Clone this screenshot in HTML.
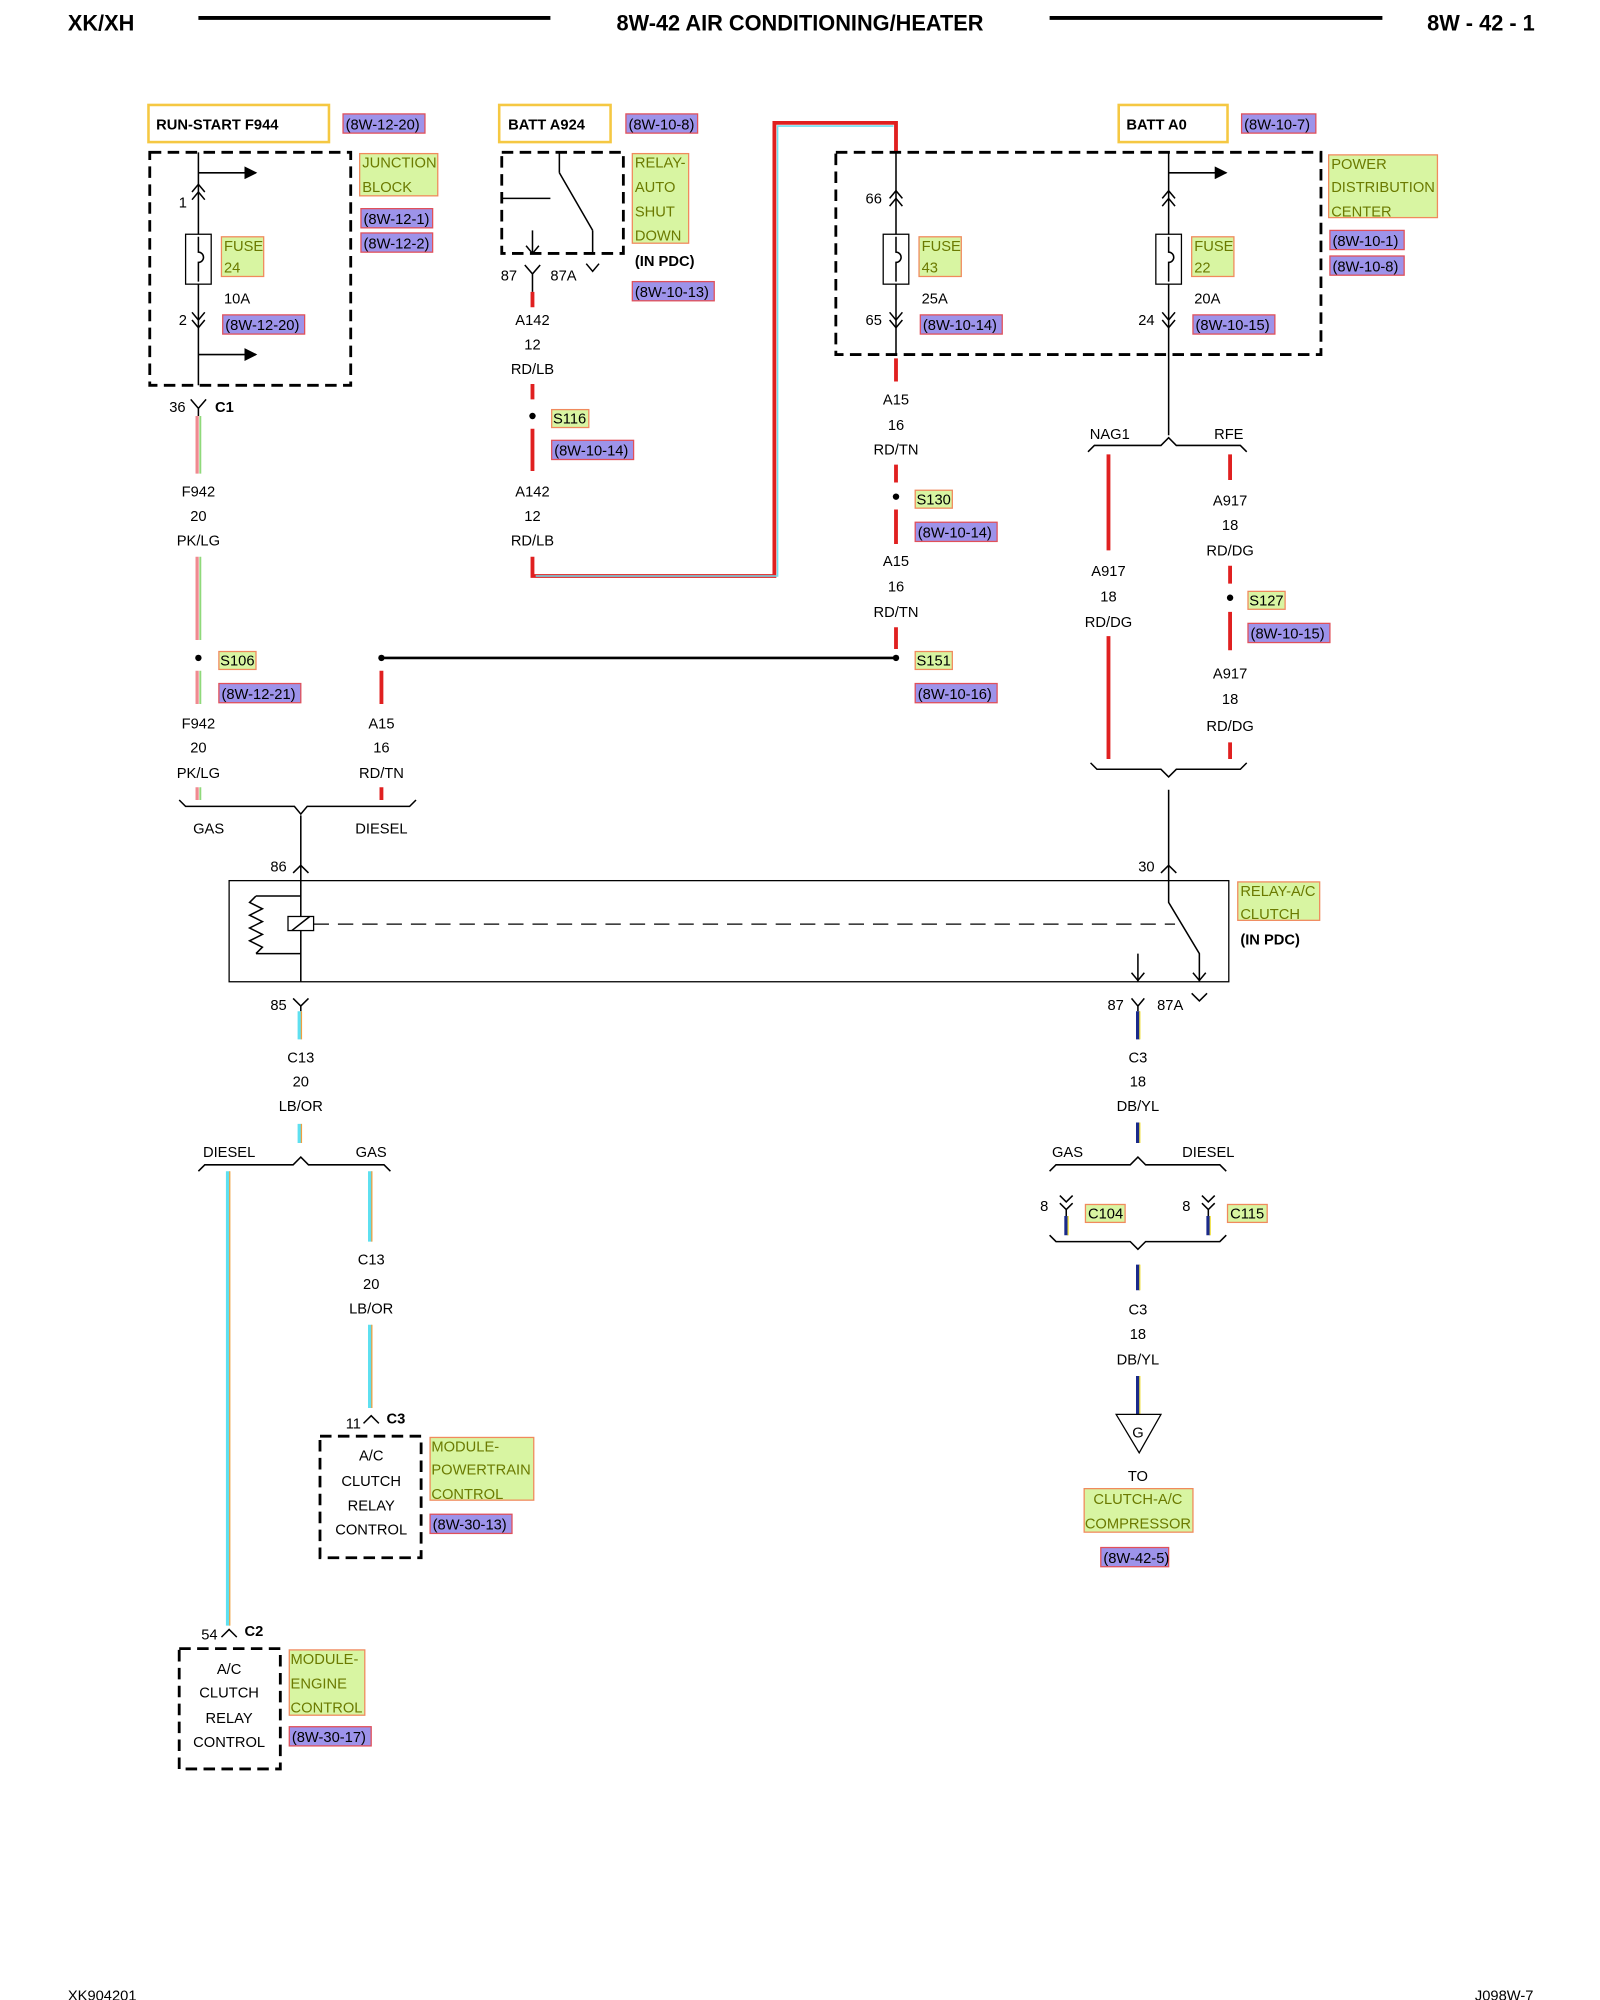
<!DOCTYPE html>
<html><head><meta charset="utf-8"><style>
body{margin:0;background:#fff}
svg{display:block}
text{font-family:"Liberation Sans",sans-serif;font-size:11.5px;fill:#000}
.c{text-anchor:middle}
.b{font-weight:bold}
.g{fill:#d8f5a2;stroke:#f08a5d;stroke-width:1}
.p{fill:#9d93ea;stroke:#e0505a;stroke-width:1}
.y{fill:#fff;stroke:#f5c842;stroke-width:2}
.d{fill:none;stroke:#000;stroke-width:2.2;stroke-dasharray:9,5}
.k{stroke:#000;stroke-width:1.2;fill:none}
.gt{fill:#6b7a00}
</style></head><body>
<svg width="1600" height="2000" viewBox="0 0 1250 1562.5" xmlns="http://www.w3.org/2000/svg">
<defs>
<marker id="ar" markerWidth="10" markerHeight="10" refX="9" refY="5" orient="auto" markerUnits="userSpaceOnUse"><path d="M0,0 L10,5 L0,10 z" fill="#000"/></marker>
</defs>
<!-- header -->
<text x="53" y="24" class="b" style="font-size:17px">XK/XH</text>
<line x1="155" y1="14" x2="430" y2="14" stroke="#000" stroke-width="3"/>
<text x="625" y="24" class="b c" style="font-size:17px">8W-42 AIR CONDITIONING/HEATER</text>
<line x1="820" y1="14" x2="1080" y2="14" stroke="#000" stroke-width="3"/>
<text x="1199" y="24" class="b" style="font-size:17px;text-anchor:end">8W - 42 - 1</text>
<text x="53" y="1563">XK904201</text>
<text x="1198" y="1563" style="text-anchor:end">J098W-7</text>

<!-- RUN-START -->
<rect x="116" y="82" width="141" height="29" class="y"/><text x="122" y="101" class="b">RUN-START F944</text>
<rect x="268" y="89" width="64" height="15" class="p"/><text x="270" y="101">(8W-12-20)</text>
<rect x="117" y="119" width="157" height="182" class="d"/>
<line x1="155" y1="119" x2="155" y2="301" class="k"/>
<line x1="155" y1="135" x2="200" y2="135" class="k" marker-end="url(#ar)"/>
<line x1="155" y1="277" x2="200" y2="277" class="k" marker-end="url(#ar)"/>
<path d="M150,150 l5,-6 l5,6 M150,156 l5,-6 l5,6 M150,244 l5,6 l5,-6 M150,250 l5,6 l5,-6" class="k"/>
<text x="146" y="162" style="text-anchor:end">1</text><text x="146" y="254" style="text-anchor:end">2</text>
<rect x="145" y="183" width="20" height="39" fill="#fff" stroke="#000"/><path d="M155,185 v12 a4,4 0 0 1 0,8 v15" class="k"/>
<rect x="173" y="185" width="33" height="31" class="g"/><text x="175" y="196" class="gt">FUSE</text><text x="175" y="213" class="gt">24</text>
<text x="175" y="237">10A</text>
<rect x="174" y="246" width="64" height="15" class="p"/><text x="176" y="258">(8W-12-20)</text>
<rect x="281" y="120" width="61" height="33" class="g"/><text x="283" y="131" class="gt">JUNCTION</text><text x="283" y="150" class="gt">BLOCK</text>
<rect x="282" y="163" width="56" height="15" class="p"/><text x="284" y="175">(8W-12-1)</text>
<rect x="282" y="182" width="56" height="15" class="p"/><text x="284" y="194">(8W-12-2)</text>
<path d="M149,312 l6,7 l6,-7 M155,319 v6" class="k"/><text x="145" y="322" style="text-anchor:end">36</text><text x="168" y="322" class="b">C1</text>

<!-- PK/LG wire -->
<g stroke-width="2.5">
<path d="M154,325v45M154,435v65M154,524v26M154,615v10" stroke="#f08a90"/>
<path d="M156.5,325v45M156.5,435v65M156.5,524v26M156.5,615v10" stroke="#8fd97a" stroke-width="1.5"/>
</g>
<text x="155" y="388" class="c">F942</text><text x="155" y="407" class="c">20</text><text x="155" y="426" class="c">PK/LG</text>
<circle cx="155" cy="514" r="2.5"/><rect x="171" y="509" width="29" height="14" class="g"/><text x="172" y="520">S106</text>
<rect x="171" y="534" width="64" height="15" class="p"/><text x="173" y="546">(8W-12-21)</text>
<text x="155" y="569" class="c">F942</text><text x="155" y="588" class="c">20</text><text x="155" y="608" class="c">PK/LG</text>
<!-- A15 at 298 -->
<circle cx="298" cy="514" r="2.5"/>
<path d="M298,524v26M298,615v10" stroke="#e02020" stroke-width="3"/>
<text x="298" y="569" class="c">A15</text><text x="298" y="588" class="c">16</text><text x="298" y="608" class="c">RD/TN</text>
<line x1="298" y1="514" x2="700" y2="514" stroke="#000" stroke-width="2"/>
<path d="M140,625 l5,5 h85 l5,6 l5,-6 h80 l5,-5" class="k"/>
<text x="163" y="651" class="c">GAS</text><text x="298" y="651" class="c">DIESEL</text>
<line x1="235" y1="637" x2="235" y2="688" class="k"/>
<path d="M229,682 l6,-6 l6,6" class="k"/><text x="224" y="681" style="text-anchor:end">86</text>

<!-- ASD relay -->
<rect x="390" y="82" width="87" height="29" class="y"/><text x="397" y="101" class="b">BATT A924</text>
<rect x="489" y="89" width="56" height="15" class="p"/><text x="491" y="101">(8W-10-8)</text>
<rect x="392" y="119" width="95" height="79" class="d"/>
<line x1="392" y1="155" x2="430" y2="155" class="k"/><line x1="437" y1="119" x2="437" y2="135" class="k"/>
<line x1="437" y1="135" x2="463" y2="180" class="k"/><line x1="463" y1="180" x2="463" y2="198" class="k"/>
<line x1="416" y1="180" x2="416" y2="198" class="k"/>
<path d="M411,192 l5,6 l5,-6 M458,206 l5,6 l5,-6 M410,207 l6,7 l6,-7 M416,214v14" class="k"/>
<text x="404" y="219" style="text-anchor:end">87</text><text x="430" y="219">87A</text>
<rect x="494" y="120" width="44" height="70" class="g"/><text x="496" y="131" class="gt">RELAY-</text><text x="496" y="150" class="gt">AUTO</text><text x="496" y="169" class="gt">SHUT</text><text x="496" y="188" class="gt">DOWN</text>
<text x="496" y="208" class="b">(IN PDC)</text>
<rect x="494" y="220" width="64" height="15" class="p"/><text x="496" y="232">(8W-10-13)</text>
<path d="M416,228v12M416,300v12M416,335v33M416,435v15 H605 V96 H700 V119" stroke="#e02020" stroke-width="3" fill="none"/>
<path d="M418.5,450 H607.5 V98.5 H698" stroke="#6ee0f0" stroke-width="1.2" fill="none"/>
<text x="416" y="254" class="c">A142</text><text x="416" y="273" class="c">12</text><text x="416" y="292" class="c">RD/LB</text>
<circle cx="416" cy="325" r="2.5"/><rect x="431" y="320" width="29" height="14" class="g"/><text x="432" y="331">S116</text>
<rect x="431" y="344" width="64" height="15" class="p"/><text x="433" y="356">(8W-10-14)</text>
<text x="416" y="388" class="c">A142</text><text x="416" y="407" class="c">12</text><text x="416" y="426" class="c">RD/LB</text>

<!-- PDC -->
<rect x="874" y="82" width="85" height="29" class="y"/><text x="880" y="101" class="b">BATT A0</text>
<rect x="970" y="89" width="58" height="15" class="p"/><text x="972" y="101">(8W-10-7)</text>
<rect x="653" y="119" width="379" height="158" class="d"/>
<line x1="700" y1="119" x2="700" y2="277" class="k"/><line x1="913" y1="119" x2="913" y2="340" class="k"/>
<line x1="913" y1="135" x2="958" y2="135" class="k" marker-end="url(#ar)"/>
<path d="M695,155 l5,-6 l5,6 M695,161 l5,-6 l5,6 M695,244 l5,6 l5,-6 M695,250 l5,6 l5,-6 M908,155 l5,-6 l5,6 M908,161 l5,-6 l5,6 M908,244 l5,6 l5,-6 M908,250 l5,6 l5,-6" class="k"/>
<text x="689" y="159" style="text-anchor:end">66</text><text x="689" y="254" style="text-anchor:end">65</text><text x="902" y="254" style="text-anchor:end">24</text>
<rect x="690" y="183" width="20" height="39" fill="#fff" stroke="#000"/><path d="M700,185 v12 a4,4 0 0 1 0,8 v15" class="k"/>
<rect x="903" y="183" width="20" height="39" fill="#fff" stroke="#000"/><path d="M913,185 v12 a4,4 0 0 1 0,8 v15" class="k"/>
<rect x="718" y="185" width="33" height="31" class="g"/><text x="720" y="196" class="gt">FUSE</text><text x="720" y="213" class="gt">43</text>
<rect x="931" y="185" width="33" height="31" class="g"/><text x="933" y="196" class="gt">FUSE</text><text x="933" y="213" class="gt">22</text>
<text x="720" y="237">25A</text><text x="933" y="237">20A</text>
<rect x="719" y="246" width="64" height="15" class="p"/><text x="721" y="258">(8W-10-14)</text>
<rect x="932" y="246" width="64" height="15" class="p"/><text x="934" y="258">(8W-10-15)</text>
<rect x="1038" y="121" width="85" height="49" class="g"/><text x="1040" y="132" class="gt">POWER</text><text x="1040" y="150" class="gt">DISTRIBUTION</text><text x="1040" y="169" class="gt">CENTER</text>
<rect x="1039" y="180" width="58" height="15" class="p"/><text x="1041" y="192">(8W-10-1)</text>
<rect x="1039" y="200" width="58" height="15" class="p"/><text x="1041" y="212">(8W-10-8)</text>
<!-- A15 x=700 -->
<path d="M700,280v18M700,363v14M700,398v27M700,490v17" stroke="#e02020" stroke-width="3"/>
<text x="700" y="316" class="c">A15</text><text x="700" y="336" class="c">16</text><text x="700" y="355" class="c">RD/TN</text>
<circle cx="700" cy="388" r="2.5"/><rect x="715" y="383" width="29" height="14" class="g"/><text x="716" y="394">S130</text>
<rect x="715" y="408" width="64" height="15" class="p"/><text x="717" y="420">(8W-10-14)</text>
<text x="700" y="442" class="c">A15</text><text x="700" y="462" class="c">16</text><text x="700" y="482" class="c">RD/TN</text>
<circle cx="700" cy="514" r="2.5"/><rect x="715" y="509" width="29" height="14" class="g"/><text x="716" y="520">S151</text>
<rect x="715" y="534" width="64" height="15" class="p"/><text x="717" y="546">(8W-10-16)</text>
<!-- NAG1/RFE -->
<path d="M850,353 l5,-5 h52 l6,-6 l6,6 h50 l5,5" class="k"/>
<text x="867" y="343" class="c">NAG1</text><text x="960" y="343" class="c">RFE</text>
<path d="M866,355v75M866,497v96M961,355v20M961,442v14M961,478v30M961,580v13" stroke="#e02020" stroke-width="3"/>
<text x="866" y="450" class="c">A917</text><text x="866" y="470" class="c">18</text><text x="866" y="490" class="c">RD/DG</text>
<text x="961" y="395" class="c">A917</text><text x="961" y="414" class="c">18</text><text x="961" y="434" class="c">RD/DG</text>
<circle cx="961" cy="467" r="2.5"/><rect x="975" y="462" width="29" height="14" class="g"/><text x="976" y="473">S127</text>
<rect x="975" y="487" width="64" height="15" class="p"/><text x="977" y="499">(8W-10-15)</text>
<text x="961" y="530" class="c">A917</text><text x="961" y="550" class="c">18</text><text x="961" y="571" class="c">RD/DG</text>
<path d="M852,596 l5,5 h50 l6,6 l6,-6 h50 l5,-5" class="k"/>
<line x1="913" y1="617" x2="913" y2="688" class="k"/>
<path d="M907,682 l6,-6 l6,6" class="k"/><text x="902" y="681" style="text-anchor:end">30</text>

<!-- A/C relay -->
<rect x="179" y="688" width="781" height="79" fill="none" stroke="#000" stroke-width="1"/>
<path d="M235,688v12 h-35 M235,700v45 h-35 M200,700 l-5,5 l10,5 l-10,5 l10,5 l-10,5 l10,5 l-10,5 l10,5 l-5,5 M235,745v22" class="k"/>
<rect x="225" y="716" width="20" height="11" fill="#fff" stroke="#000"/><line x1="228" y1="727" x2="242" y2="716" class="k"/>
<line x1="245" y1="722" x2="918" y2="722" stroke="#000" stroke-dasharray="12,7"/>
<path d="M913,688v17 l24,40 v22 M889,745v22" class="k"/>
<path d="M884,760 l5,6 l5,-6 M932,760 l5,6 l5,-6 M229,780 l6,6 l6,-6 M235,786v4 M884,780 l5,6 l5,-6 M889,786v4 M931,776 l6,6 l6,-6" class="k"/>
<text x="224" y="789" style="text-anchor:end">85</text><text x="878" y="789" style="text-anchor:end">87</text><text x="904" y="789">87A</text>
<rect x="967" y="689" width="64" height="30" class="g"/><text x="969" y="700" class="gt">RELAY-A/C</text><text x="969" y="718" class="gt">CLUTCH</text>
<text x="969" y="738" class="b">(IN PDC)</text>

<!-- LB/OR -->
<g stroke-width="3"><path d="M234,790v22M234,878v15M178,915v355M289,915v55M289,1035v65" stroke="#5ee0f0"/></g>
<g stroke-width="1"><path d="M235.5,790v22M235.5,878v15M179.5,915v355M290.5,915v55M290.5,1035v65" stroke="#f0a040"/></g>
<text x="235" y="830" class="c">C13</text><text x="235" y="849" class="c">20</text><text x="235" y="868" class="c">LB/OR</text>
<path d="M155,915 l5,-5 h69 l6,-6 l6,6 h59 l5,5" class="k"/>
<text x="179" y="904" class="c">DIESEL</text><text x="290" y="904" class="c">GAS</text>
<text x="290" y="988" class="c">C13</text><text x="290" y="1007" class="c">20</text><text x="290" y="1026" class="c">LB/OR</text>
<path d="M284,1112 l6,-6 l6,6" class="k"/><text x="282" y="1116" style="text-anchor:end">11</text><text x="302" y="1112" class="b">C3</text>
<rect x="250" y="1122" width="79" height="95" class="d"/>
<text x="290" y="1141" class="c">A/C</text><text x="290" y="1161" class="c">CLUTCH</text><text x="290" y="1180" class="c">RELAY</text><text x="290" y="1199" class="c">CONTROL</text>
<rect x="336" y="1123" width="81" height="49" class="g"/><text x="337" y="1134" class="gt">MODULE-</text><text x="337" y="1152" class="gt">POWERTRAIN</text><text x="337" y="1171" class="gt">CONTROL</text>
<rect x="336" y="1183" width="64" height="15" class="p"/><text x="338" y="1195">(8W-30-13)</text>
<path d="M173,1279 l6,-6 l6,6" class="k"/><text x="170" y="1281" style="text-anchor:end">54</text><text x="191" y="1278" class="b">C2</text>
<rect x="140" y="1288" width="79" height="94" class="d"/>
<text x="179" y="1308" class="c">A/C</text><text x="179" y="1326" class="c">CLUTCH</text><text x="179" y="1346" class="c">RELAY</text><text x="179" y="1365" class="c">CONTROL</text>
<rect x="226" y="1289" width="59" height="51" class="g"/><text x="227" y="1300" class="gt">MODULE-</text><text x="227" y="1319" class="gt">ENGINE</text><text x="227" y="1338" class="gt">CONTROL</text>
<rect x="226" y="1349" width="64" height="15" class="p"/><text x="228" y="1361">(8W-30-17)</text>

<!-- DB/YL -->
<g stroke-width="3"><path d="M889,790v22M889,877v16M889,988v20M889,1075v30M833,950v15M944,950v15" stroke="#1a2a8a"/></g>
<g stroke-width="1"><path d="M890.5,790v22M890.5,877v16M890.5,988v20M890.5,1075v30M834.5,950v15M945.5,950v15" stroke="#f0e040"/></g>
<text x="889" y="830" class="c">C3</text><text x="889" y="849" class="c">18</text><text x="889" y="868" class="c">DB/YL</text>
<path d="M820,915 l5,-5 h58 l6,-6 l6,6 h58 l5,5" class="k"/>
<text x="834" y="904" class="c">GAS</text><text x="944" y="904" class="c">DIESEL</text>
<path d="M828,934 l5,5 l5,-5 M828,940 l5,5 l5,-5 M833,945v5 M939,934 l5,5 l5,-5 M939,940 l5,5 l5,-5 M944,945v5" class="k"/>
<text x="819" y="946" style="text-anchor:end">8</text><text x="930" y="946" style="text-anchor:end">8</text>
<rect x="848" y="941" width="31" height="14" class="g"/><text x="850" y="952">C104</text>
<rect x="959" y="941" width="31" height="14" class="g"/><text x="961" y="952">C115</text>
<path d="M820,965 l5,5 h58 l6,6 l6,-6 h58 l5,-5" class="k"/>
<text x="889" y="1027" class="c">C3</text><text x="889" y="1046" class="c">18</text><text x="889" y="1066" class="c">DB/YL</text>
<path d="M872,1105 h35 l-17,30 z" fill="#fff" stroke="#000"/><text x="889" y="1123" class="c">G</text>
<text x="889" y="1157" class="c">TO</text>
<rect x="847" y="1163" width="85" height="34" class="g"/><text x="889" y="1175" class="c gt">CLUTCH-A/C</text><text x="889" y="1194" class="c gt">COMPRESSOR</text>
<rect x="860" y="1209" width="53" height="15" class="p"/><text x="862" y="1221">(8W-42-5)</text>
</svg>
</body></html>
